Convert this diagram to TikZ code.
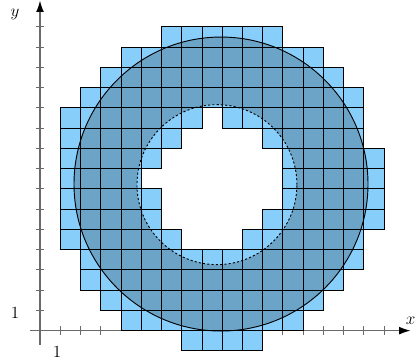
\documentclass[tikz,border=0pt]{standalone}
\usetikzlibrary{arrows.meta}
\definecolor{CellBlue}{HTML}{87CEFA}
\definecolor{AxisGray}{HTML}{6A6A6A}

\begin{document}
\begin{tikzpicture}[x=0.5cm,y=0.5cm,line width=0.65pt,
    cell/.style={fill=CellBlue,draw=black},
    axis/.style={draw=AxisGray,line width=0.8pt,-{Latex[length=8pt,width=5.5pt,color=black]}},
    tick/.style={draw=AxisGray,line width=0.7pt},
    lab/.style={font=\fontsize{11.5}{13}\selectfont}]
  \useasboundingbox (-1.975,-1.595) rectangle (18.62,16.33);

  % axes
  \coordinate (O) at (0,0);
  \coordinate (xstart) at (-0.5,0);
  \coordinate (xtip) at (18.3,0);
  \coordinate (ystart) at (0,-0.7);
  \coordinate (ytip) at (0,16.3);
  \draw[axis] (xstart) -- (xtip);
  \draw[axis] (ystart) -- (ytip);
  \foreach \x in {1,2,3,12,13,14,15,16,17}
    \draw[tick] (\x,-0.22) -- (\x,0.22);
  \foreach \y in {1,...,15}
    \draw[tick] (-0.22,\y) -- (0.22,\y);
  \node[lab] (xlab) at (18.3,0.5) {$x$};
  \node[lab] (ylab) at (-1.23,15.63) {$y$};
  \node[lab] (xone) at (0.84,-1.05) {$1$};
  \node[lab] (yone) at (-1.23,0.89) {$1$};

  % squares, row by row
  \foreach \j/\a/\b in {14/6/11, 13/4/13, 12/3/14, 11/2/15,
      10/1/7, 10/9/15, 9/1/6, 9/11/15, 8/1/5, 8/12/16,
      7/1/4, 7/12/16, 6/1/5, 6/12/16, 5/1/5, 5/11/16,
      4/1/6, 4/10/15, 3/2/15, 2/2/14, 1/3/13, 0/4/12, -1/7/10}
    \foreach \i in {\a,...,\b}
      \draw[cell] (\i,\j) rectangle ++(1,1);

  % annulus
  \coordinate (C) at (8.94,7.24);
  \coordinate (Ci) at (8.74,7.21);
  \fill[black,fill opacity=0.2,even odd rule] (C) circle (7.26) (Ci) circle (3.95);
  \draw (C) circle (7.26);
  \draw[dash pattern=on 1.5pt off 1.5pt] (Ci) circle (3.95);
\end{tikzpicture}
\end{document}
